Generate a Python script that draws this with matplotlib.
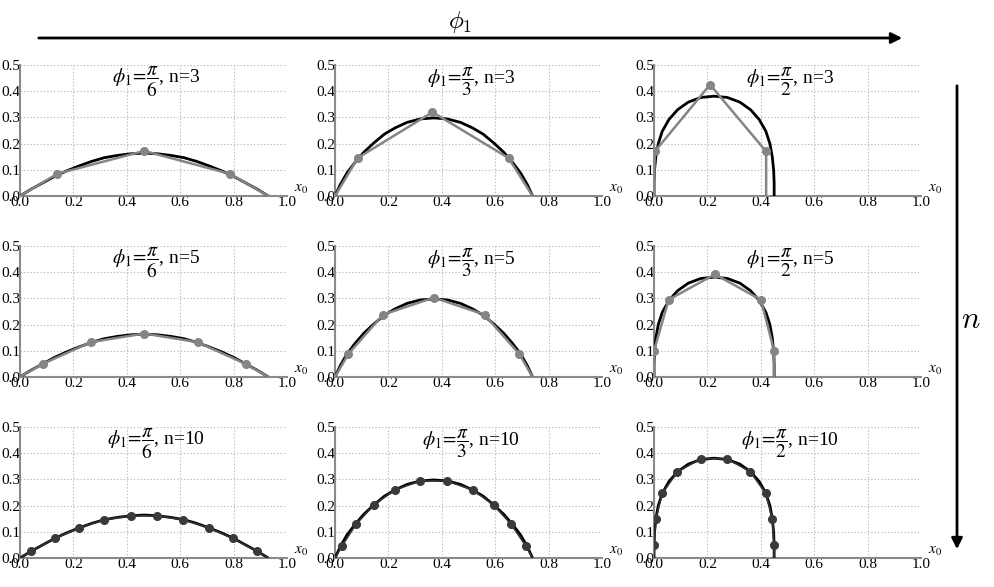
import numpy as np
import matplotlib.pyplot as plt

plt.rcParams['font.family'] = ['Liberation Serif', 'DejaVu Serif']
plt.rcParams['mathtext.fontset'] = 'stix'

# smooth reference curves, one per phi1
curve_x_pi6 = [0.0, 0.04, 0.085, 0.13, 0.175, 0.222, 0.268, 0.315, 0.365, 0.414, 0.465,
               0.516, 0.565, 0.615, 0.662, 0.708, 0.755, 0.80, 0.845, 0.89, 0.93]
curve_y_pi6 = [0.0, 0.025, 0.05, 0.075, 0.096, 0.115, 0.132, 0.146, 0.155, 0.161, 0.164,
               0.161, 0.155, 0.146, 0.132, 0.115, 0.096, 0.075, 0.05, 0.025, 0.0]

curve_x_pi3 = [0.0, 0.02, 0.045, 0.075, 0.108, 0.146, 0.185, 0.225, 0.27, 0.319, 0.37,
               0.421, 0.47, 0.515, 0.555, 0.594, 0.632, 0.665, 0.695, 0.72, 0.74]
curve_y_pi3 = [0.0, 0.044, 0.088, 0.128, 0.167, 0.203, 0.236, 0.26, 0.281, 0.294, 0.298,
               0.294, 0.281, 0.26, 0.236, 0.203, 0.167, 0.128, 0.088, 0.044, 0.0]

curve_x_pi2 = [0.0, 0.0, 0.002, 0.007, 0.016, 0.031, 0.056, 0.088, 0.128, 0.175, 0.225,
               0.275, 0.322, 0.362, 0.394, 0.419, 0.434, 0.443, 0.448, 0.45, 0.45]
curve_y_pi2 = [0.0, 0.05, 0.1, 0.15, 0.2, 0.247, 0.292, 0.329, 0.358, 0.376, 0.381,
               0.376, 0.358, 0.329, 0.292, 0.247, 0.2, 0.15, 0.1, 0.05, 0.0]

# discrete approximations, n = 3, 5, 10
pts_pi6_n3_x = [0.0, 0.14, 0.465, 0.785, 0.93]
pts_pi6_n3_y = [0.0, 0.085, 0.172, 0.085, 0.0]
pts_pi3_n3_x = [0.0, 0.085, 0.365, 0.65, 0.74]
pts_pi3_n3_y = [0.0, 0.145, 0.32, 0.145, 0.0]
pts_pi2_n3_x = [0.0, 0.003, 0.21, 0.42, 0.42]
pts_pi2_n3_y = [0.0, 0.17, 0.425, 0.17, 0.0]

pts_pi6_n5_x = [0.0, 0.085, 0.265, 0.465, 0.665, 0.845, 0.93]
pts_pi6_n5_y = [0.0, 0.05, 0.133, 0.166, 0.133, 0.05, 0.0]
pts_pi3_n5_x = [0.0, 0.05, 0.18, 0.37, 0.56, 0.69, 0.74]
pts_pi3_n5_y = [0.0, 0.088, 0.238, 0.303, 0.238, 0.088, 0.0]
pts_pi2_n5_x = [0.0, 0.0, 0.055, 0.228, 0.4, 0.45, 0.45]
pts_pi2_n5_y = [0.0, 0.1, 0.295, 0.392, 0.295, 0.1, 0.0]

pts_pi6_n10_x = [0.0, 0.04, 0.13, 0.222, 0.315, 0.414, 0.514, 0.612, 0.708, 0.798, 0.888, 0.93]
pts_pi6_n10_y = [0.0, 0.025, 0.075, 0.115, 0.146, 0.161, 0.161, 0.146, 0.115, 0.075, 0.025, 0.0]
pts_pi3_n10_x = [0.0, 0.025, 0.078, 0.146, 0.225, 0.319, 0.419, 0.515, 0.594, 0.66, 0.716, 0.74]
pts_pi3_n10_y = [0.0, 0.044, 0.128, 0.203, 0.26, 0.294, 0.294, 0.26, 0.203, 0.128, 0.044, 0.0]
pts_pi2_n10_x = [0.0, 0.0, 0.007, 0.031, 0.088, 0.175, 0.273, 0.361, 0.418, 0.443, 0.45, 0.45]
pts_pi2_n10_y = [0.0, 0.05, 0.15, 0.247, 0.329, 0.379, 0.379, 0.329, 0.247, 0.15, 0.05, 0.0]

phi_labels = ['6', '3', '2']
n_values = [3, 5, 10]
curves = [(curve_x_pi6, curve_y_pi6), (curve_x_pi3, curve_y_pi3), (curve_x_pi2, curve_y_pi2)]
points = [
    [(pts_pi6_n3_x, pts_pi6_n3_y), (pts_pi3_n3_x, pts_pi3_n3_y), (pts_pi2_n3_x, pts_pi2_n3_y)],
    [(pts_pi6_n5_x, pts_pi6_n5_y), (pts_pi3_n5_x, pts_pi3_n5_y), (pts_pi2_n5_x, pts_pi2_n5_y)],
    [(pts_pi6_n10_x, pts_pi6_n10_y), (pts_pi3_n10_x, pts_pi3_n10_y), (pts_pi2_n10_x, pts_pi2_n10_y)],
]

W, H = 995, 587
fig = plt.figure(figsize=(W / 100, H / 100), dpi=100)

col_left = [20, 335, 654]
row_bottom = [196, 377, 558]
ax_w, ax_h = 267, 131

for r in range(3):
    for c in range(3):
        ax = fig.add_axes([col_left[c] / W, 1 - row_bottom[r] / H, ax_w / W, ax_h / H])
        cx, cy = curves[c]
        px, py = points[r][c]
        ax.plot(cx, cy, color='black', lw=2.0, zorder=3, solid_capstyle='butt')
        if n_values[r] == 10:
            ax.plot(px, py, color='#333333', lw=1.2, zorder=4)
            ax.plot(px[1:-1], py[1:-1], 'o', color='#3a3a3a', ms=5.5, zorder=5)
        else:
            ax.plot(px, py, color='#858585', lw=1.8, zorder=4)
            ax.plot(px[1:-1], py[1:-1], 'o', color='#858585', ms=5.5, zorder=5)
        ax.set_xlim(0, 1.0)
        ax.set_ylim(0, 0.5)
        ax.set_xticks([0.0, 0.2, 0.4, 0.6, 0.8, 1.0])
        ax.set_yticks([0.0, 0.1, 0.2, 0.3, 0.4, 0.5])
        ax.set_xticklabels(['0.0', '0.2', '0.4', '0.6', '0.8', '1.0'])
        ax.set_yticklabels(['0.0', '0.1', '0.2', '0.3', '0.4', '0.5'])
        ax.tick_params(length=0, labelsize=11, pad=0)
        ax.grid(True, color='#bbbbbb', ls=(0, (1.2, 1.8)), lw=0.8)
        ax.set_axisbelow(True)
        for s in ['top', 'right']:
            ax.spines[s].set_visible(False)
        for s in ['left', 'bottom']:
            ax.spines[s].set_color('#8a8a8a')
            ax.spines[s].set_linewidth(1.5)
        ax.text(1.025, 0.025, '$x_0$', fontsize=11, ha='left', va='center',
                transform=ax.transData, clip_on=False)
        ax.text(0.51, 0.87, r'$\phi_1\!=\!\dfrac{\pi}{%s}$, n=%d' % (phi_labels[c], n_values[r]),
                fontsize=14, ha='center', va='center', transform=ax.transAxes)

# direction arrows
y_top = 1 - 38 / H
fig.add_artist(plt.matplotlib.patches.FancyArrowPatch(
    (36 / W, y_top), (905 / W, y_top), transform=fig.transFigure,
    arrowstyle='-|>', mutation_scale=16, lw=2, color='black'))
fig.text(460 / W, 1 - 22 / H, r'$\phi_1$', fontsize=18, ha='center', va='center',
         math_fontfamily='cm')

x_right = 957 / W
fig.add_artist(plt.matplotlib.patches.FancyArrowPatch(
    (x_right, 1 - 83 / H), (x_right, 1 - 552 / H), transform=fig.transFigure,
    arrowstyle='-|>', mutation_scale=16, lw=2, color='black'))
fig.text(971 / W, 1 - 320 / H, r'$n$', fontsize=22, ha='center', va='center',
         math_fontfamily='cm')

fig.savefig('out.png', dpi=100)
